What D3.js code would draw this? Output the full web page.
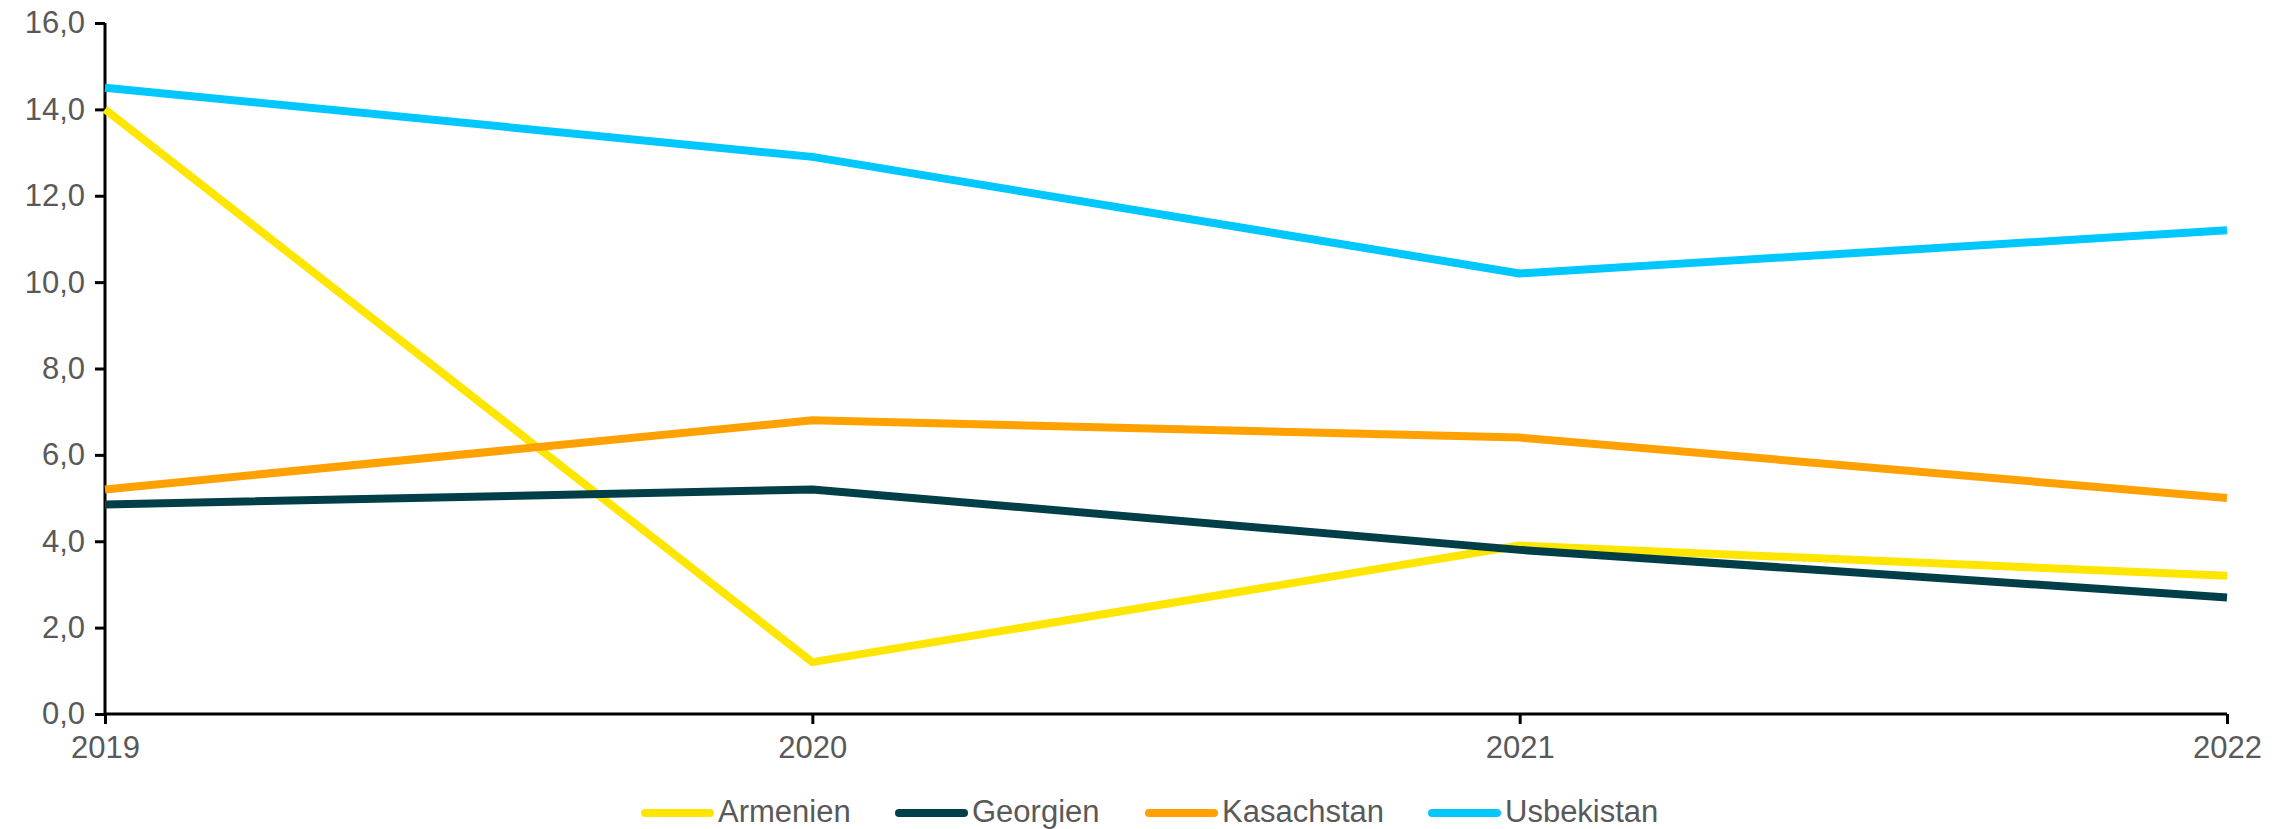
<!DOCTYPE html>
<html>
<head>
<meta charset="utf-8">
<script src="https://cdn.jsdelivr.net/npm/d3@7"></script>
<style>
  body { margin: 0; background: #fff; }
  text { font-family: "Liberation Sans", Arial, sans-serif; fill: #595959; }
</style>
</head>
<body>
<div id="chart"></div>
<script>
// Data
var years = [2019, 2020, 2021, 2022];
var seriesNames = ["Armenien", "Georgien", "Kasachstan", "Usbekistan"];
var armenien = [14.0, 1.2, 3.9, 3.2];
var georgien = [4.85, 5.2, 3.8, 2.7];
var kasachstan = [5.2, 6.8, 6.4, 5.0];
var usbekistan = [14.5, 12.9, 10.2, 11.2];
var yTicks = [0, 2, 4, 6, 8, 10, 12, 14, 16];
var colors = ["#FFE600", "#003F48", "#FFA100", "#00C8FF"];

var svgWidth = 2290;
var svgHeight = 829;
var margin = { top: 23, right: 63, bottom: 115, left: 105 };
var width = svgWidth - margin.left - margin.right;
var height = svgHeight - margin.top - margin.bottom;

var svg = d3.select("#chart")
    .append("svg")
    .attr("width", svgWidth)
    .attr("height", svgHeight);

var chart = svg.append("g")
    .attr("transform", "translate(" + margin.left + "," + margin.top + ")");

var xScale = d3.scalePoint().domain(years).range([0, width]);
var yScale = d3.scaleLinear().domain([0, 16]).range([height, 0]);

var fmt = function(d) { return d3.format(".1f")(d).replace(".", ","); };

// y axis
var leftAxis = d3.axisLeft(yScale).tickValues(yTicks).tickFormat(fmt).tickSize(10).tickPadding(10);
var yAxis = chart.append("g").attr("class", "y-axis").call(leftAxis);
yAxis.select(".domain").attr("stroke", "#000").attr("stroke-width", 3).attr("d", "M0," + height + "V0");
yAxis.selectAll(".tick line").attr("stroke", "#000").attr("stroke-width", 3);
yAxis.selectAll(".tick text").style("font-size", "31px").attr("fill", "#595959");

// x axis
var bottomAxis = d3.axisBottom(xScale).tickSize(10).tickPadding(12);
var xAxis = chart.append("g")
    .attr("class", "x-axis")
    .attr("transform", "translate(0," + height + ")")
    .call(bottomAxis);
xAxis.select(".domain").attr("stroke", "#000").attr("stroke-width", 3).attr("d", "M0,0H" + width);
xAxis.selectAll(".tick line").attr("stroke", "#000").attr("stroke-width", 3);
xAxis.selectAll(".tick text").style("font-size", "31px").attr("fill", "#595959");

// lines
var allSeries = [armenien, georgien, kasachstan, usbekistan];
var line = d3.line()
    .x(function(d, i) { return xScale(years[i]); })
    .y(function(d) { return yScale(d); });

chart.selectAll(".series")
    .data(allSeries)
    .enter()
    .append("path")
    .attr("class", "series")
    .attr("d", line)
    .attr("fill", "none")
    .attr("stroke", function(d, i) { return colors[i]; })
    .attr("stroke-width", 8)
    .attr("stroke-linejoin", "round");

// legend
var legendX = [641, 895, 1145, 1428];
var legend = svg.append("g").attr("class", "legend");
var items = legend.selectAll("g")
    .data(seriesNames)
    .enter()
    .append("g")
    .attr("transform", function(d, i) { return "translate(" + legendX[i] + ",813)"; });

items.append("line")
    .attr("x1", 4).attr("x2", 69)
    .attr("y1", 0).attr("y2", 0)
    .attr("stroke", function(d, i) { return colors[i]; })
    .attr("stroke-width", 8)
    .attr("stroke-linecap", "round");

items.append("text")
    .attr("x", 77)
    .attr("y", 9)
    .style("font-size", "31px")
    .text(function(d) { return d; });
</script>
</body>
</html>
